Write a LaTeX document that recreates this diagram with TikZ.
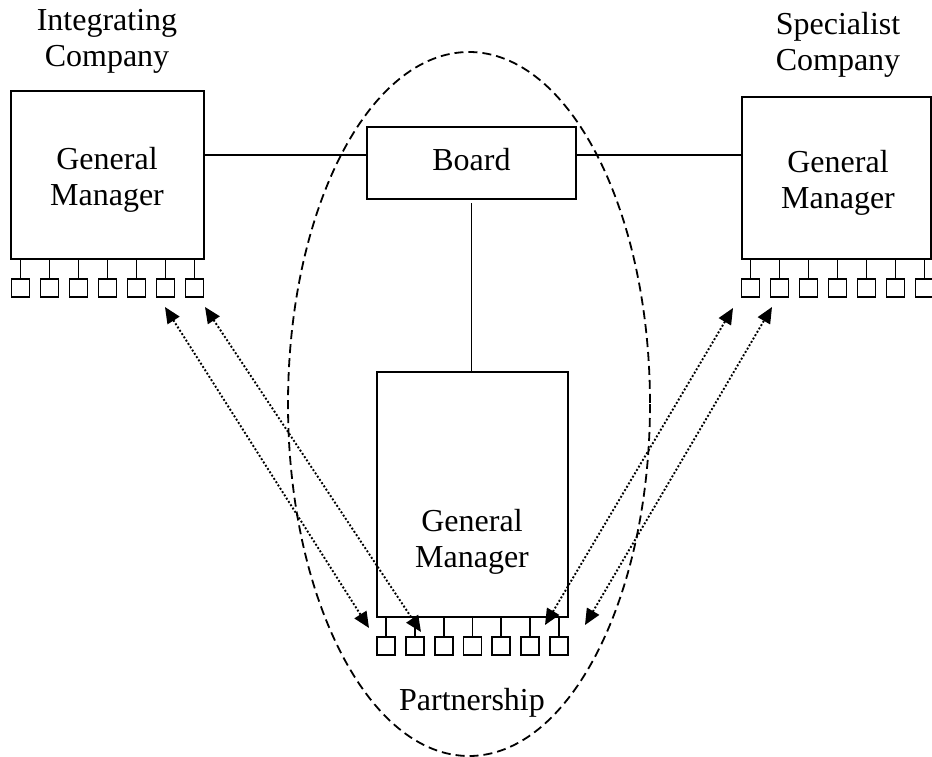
\documentclass[tikz,border=0pt]{standalone}
\usepackage{fontspec}
\setmainfont{Liberation Serif}
\usetikzlibrary{arrows.meta}
\tikzset{
  box/.style={draw, line width=2pt, rectangle, inner sep=0pt},
  unit/.style={draw, line width=1.8pt, rectangle, minimum width=18pt, minimum height=18pt, inner sep=0pt},
  tick/.style={line width=1.8pt},
  link/.style={line width=1.8pt},
  lbl/.style={align=center, font=\fontsize{32}{36}\selectfont, inner sep=0pt},
  ties/.style={dotted, line width=1.9pt, {Triangle[length=16pt,width=14pt]}-{Triangle[length=16pt,width=14pt]}},
  zone/.style={draw, line width=1.8pt, dash pattern=on 9pt off 5pt}
}
\begin{document}
\begin{tikzpicture}[x=1pt,y=-1pt]
\useasboundingbox (0,0) rectangle (932,757);

% partnership boundary
\draw[zone] (469,404) ellipse [x radius=181, y radius=352];

% company and partnership boxes
\node[box, minimum width=193pt, minimum height=168pt] (IC) at (107.5,175) {};
\node[box, minimum width=209pt, minimum height=72pt] (B) at (471.5,163) {};
\node[box, minimum width=189pt, minimum height=162pt] (SC) at (836.5,178) {};
\node[box, minimum width=191pt, minimum height=245pt] (P) at (472.5,494.5) {};

% texts
\node[lbl] (ICt) at (107,41) {Integrating\\Company};
\node[lbl] (SCt) at (838,45) {Specialist\\Company};
\node[lbl] (ICg) at (107,180) {General\\Manager};
\node[lbl] (Bt) at (471.5,160) {Board};
\node[lbl] (SCg) at (838,183) {General\\Manager};
\node[lbl] (Pg) at (472,542) {General\\Manager};
\node[lbl] (Pt) at (472,703) {Partnership};

% board links
\coordinate (Bw) at ([yshift=8pt]B.west);
\coordinate (Be) at ([yshift=8pt]B.east);
\draw[link] (IC.east |- Bw) -- (Bw);
\draw[link] (Be) -- (SC.west |- Be);
\draw[link] (471.5,203) coordinate (Bs) -- (Bs |- P.north);

% units under each general manager
\foreach \i in {1,...,7} {
  \node[unit] (L\i) at ({20.5+29*(\i-1)},288) {};
  \draw[tick] (L\i.north) -- (L\i.north |- IC.south);
  \node[unit] (R\i) at ({750.5+29*(\i-1)},288) {};
  \draw[tick] (R\i.north) -- (R\i.north |- SC.south);
  \node[unit] (M\i) at ({386+28.8*(\i-1)},646) {};
  \draw[tick] (M\i.north) -- (M\i.north |- P.south);
}

% end points of the dotted ties
\coordinate (a1) at (165,307);
\coordinate (a2) at (205,307);
\coordinate (b1) at (369,628);
\coordinate (b2) at (421,632);
\coordinate (c1) at (545,625);
\coordinate (c2) at (585,625);
\coordinate (d1) at (733,308);
\coordinate (d2) at (772,307);

\draw[ties] (a1) -- (b1);
\draw[ties] (a2) -- (b2);
\draw[ties] (c1) -- (d1);
\draw[ties] (c2) -- (d2);
\end{tikzpicture}
\end{document}
